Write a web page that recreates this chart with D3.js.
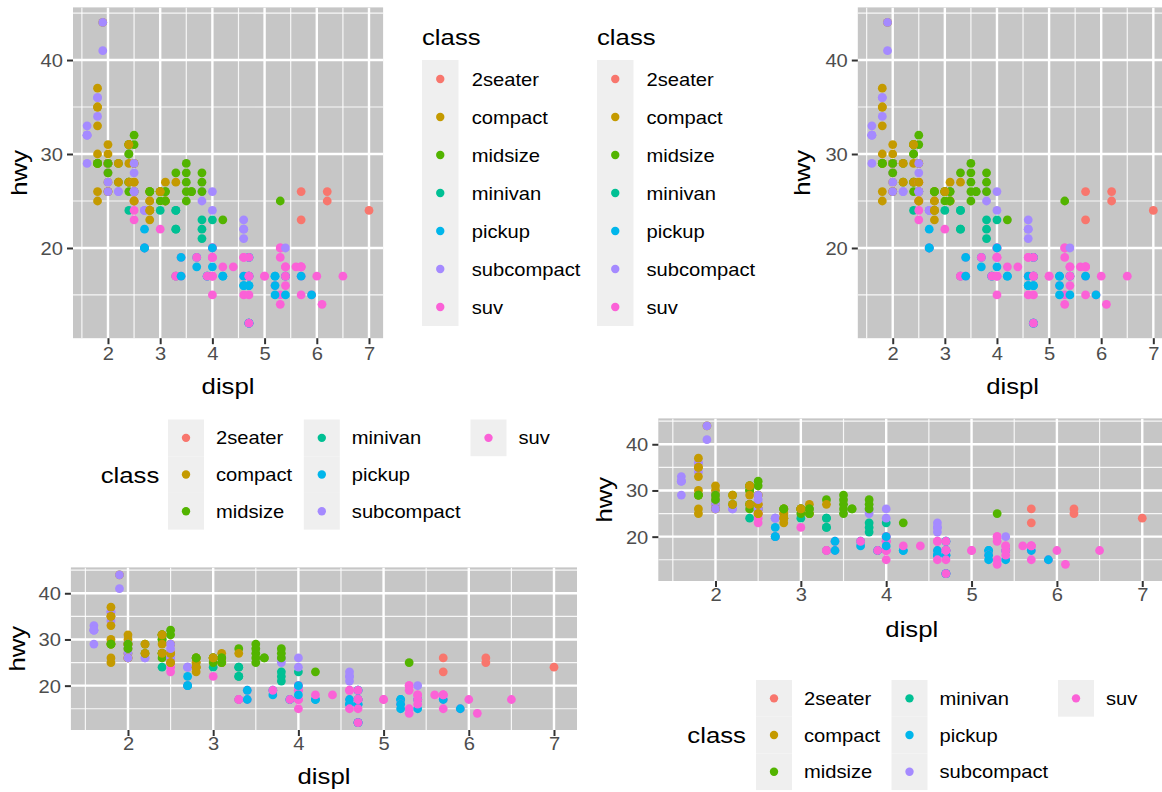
<!DOCTYPE html>
<html>
<head>
<meta charset="utf-8">
<script src="https://cdn.jsdelivr.net/npm/d3@7"></script>
<style>
html,body{margin:0;padding:0;background:#fff;}
svg{display:block;}
text{font-family:"Liberation Sans",Arial,Helvetica,sans-serif;}
</style>
</head>
<body>
<svg id="c" width="1162" height="792"></svg>
<script>
// ---- data (ggplot2::mpg, row order) ----
const classes = ["2seater","compact","midsize","minivan","pickup","subcompact","suv"];
const palette = ["#F8766D","#C49A00","#53B400","#00C094","#00B6EB","#A58AFF","#FB61D7"];
const displ = [1.8,1.8,2.0,2.0,2.8,2.8,3.1,1.8,1.8,2.0,2.0,2.8,2.8,3.1,3.1,2.8,3.1,4.2,5.3,5.3,
5.3,5.7,6.0,5.7,5.7,6.2,6.2,7.0,5.3,5.3,5.7,6.5,2.4,2.4,3.1,3.5,3.6,2.4,3.0,3.3,
3.3,3.3,3.3,3.3,3.8,3.8,3.8,4.0,3.7,3.7,3.9,3.9,4.7,4.7,4.7,5.2,5.2,3.9,4.7,4.7,
4.7,5.2,5.7,5.9,4.7,4.7,4.7,4.7,4.7,4.7,5.2,5.2,5.7,5.9,4.6,5.4,5.4,4.0,4.0,4.0,
4.0,4.6,5.0,4.2,4.2,4.6,4.6,4.6,5.4,5.4,3.8,3.8,4.0,4.0,4.6,4.6,4.6,4.6,5.4,1.6,
1.6,1.6,1.6,1.6,1.8,1.8,1.8,2.0,2.4,2.4,2.4,2.4,2.5,2.5,3.3,2.0,2.0,2.0,2.0,2.7,
2.7,2.7,3.0,3.7,4.0,4.7,4.7,4.7,5.7,6.1,4.0,4.2,4.4,4.6,5.4,5.4,5.4,4.0,4.0,4.6,
5.0,2.4,2.4,2.5,2.5,3.5,3.5,3.0,3.0,3.5,3.3,3.3,4.0,5.6,3.1,3.8,3.8,3.8,5.3,2.5,
2.5,2.5,2.5,2.5,2.5,2.2,2.2,2.5,2.5,2.5,2.5,2.5,2.5,2.7,2.7,3.4,3.4,4.0,4.7,2.2,
2.2,2.4,2.4,3.0,3.0,3.5,2.2,2.2,2.4,2.4,3.0,3.0,3.3,1.8,1.8,1.8,1.8,1.8,4.7,5.7,
2.7,2.7,2.7,3.4,3.4,4.0,4.0,2.0,2.0,2.0,2.0,2.8,1.9,2.0,2.0,2.0,2.0,2.5,2.5,2.8,
2.8,1.9,1.9,2.0,2.0,2.5,2.5,1.8,1.8,2.0,2.0,2.8,2.8,3.6];
const hwy = [29,29,31,30,26,26,27,26,25,28,27,25,25,25,25,24,25,23,20,15,
20,17,17,26,23,26,25,24,19,14,15,17,27,30,26,29,26,24,24,22,
22,24,24,17,22,21,23,23,19,18,17,17,19,19,12,17,17,17,17,12,
17,16,18,15,16,12,17,17,16,12,15,16,17,15,17,17,18,17,19,17,
19,19,17,17,17,16,16,17,15,17,26,25,26,24,21,22,23,22,20,33,
32,32,29,32,34,36,36,29,26,27,30,31,26,26,28,26,29,28,27,24,
24,24,22,19,20,17,12,19,18,14,15,18,18,15,17,16,18,17,19,19,
17,29,27,31,32,27,26,26,25,25,17,17,20,18,26,26,27,28,25,25,
24,27,25,26,23,26,26,26,26,25,27,25,27,20,20,19,17,20,17,29,
27,31,31,26,26,28,27,29,31,31,26,26,27,30,33,35,37,35,15,18,
20,20,22,17,19,18,20,29,26,29,29,24,44,29,26,29,29,29,29,23,
24,44,41,29,26,28,29,29,29,28,29,26,26,26];
const cls = ["compact","compact","compact","compact","compact","compact","compact","compact","compact","compact",
"compact","compact","compact","compact","compact","midsize","midsize","midsize","suv","suv",
"suv","suv","suv","2seater","2seater","2seater","2seater","2seater","suv","suv",
"suv","suv","midsize","midsize","midsize","midsize","midsize","minivan","minivan","minivan",
"minivan","minivan","minivan","minivan","minivan","minivan","minivan","minivan","pickup","pickup",
"pickup","pickup","pickup","pickup","pickup","pickup","pickup","suv","suv","suv",
"suv","suv","suv","suv","pickup","pickup","pickup","pickup","pickup","pickup",
"pickup","pickup","pickup","pickup","suv","suv","suv","suv","suv","suv",
"suv","suv","suv","pickup","pickup","pickup","pickup","pickup","pickup","pickup",
"subcompact","subcompact","subcompact","subcompact","subcompact","subcompact","subcompact","subcompact","subcompact","subcompact",
"subcompact","subcompact","subcompact","subcompact","subcompact","subcompact","subcompact","subcompact","midsize","midsize",
"midsize","midsize","midsize","midsize","midsize","subcompact","subcompact","subcompact","subcompact","subcompact",
"subcompact","subcompact","suv","suv","suv","suv","suv","suv","suv","suv",
"suv","suv","suv","suv","suv","suv","suv","suv","suv","suv",
"suv","compact","compact","midsize","midsize","midsize","midsize","midsize","midsize","midsize",
"suv","suv","suv","suv","midsize","midsize","midsize","midsize","midsize","suv",
"suv","suv","suv","suv","suv","subcompact","subcompact","subcompact","subcompact","compact",
"compact","compact","compact","suv","suv","suv","suv","suv","suv","midsize",
"midsize","midsize","midsize","midsize","midsize","midsize","compact","compact","compact","compact",
"compact","compact","compact","compact","compact","compact","compact","compact","suv","suv",
"pickup","pickup","pickup","pickup","pickup","pickup","pickup","compact","compact","compact",
"compact","compact","compact","compact","compact","compact","compact","compact","compact","compact",
"compact","subcompact","subcompact","subcompact","subcompact","subcompact","subcompact","midsize","midsize","midsize",
"midsize","midsize","midsize","midsize"];
const xTicks = [2,3,4,5,6,7];
const yTicks = [20,30,40];
const xMinor = [1.5,2.5,3.5,4.5,5.5,6.5,7.5];
const yMinor = [15,25,35,45];
const xTitle = "displ", yTitle = "hwy", legendTitle = "class";

// ---- style ----
const SX = 1.12;          // horizontal text stretch
const FS_TICK = 18, FS_TITLE = 23;
const PANEL_BG = "#c6c6c6", KEY_BG = "#efefef";
const color = d3.scaleOrdinal().domain(classes).range(palette);
const svg = d3.select("#c");

function txt(g, x, y, s, size, anchor, fill, rot) {
  return g.append("text")
    .attr("transform", `translate(${x},${y})` + (rot ? ` rotate(${rot})` : "") + ` scale(${SX},1)`)
    .attr("text-anchor", anchor || "start")
    .attr("font-size", size)
    .attr("fill", fill || "#000")
    .text(s);
}

function expand(ext, m) { const d = (ext[1] - ext[0]) * m; return [ext[0] - d, ext[1] + d]; }
const xDom = expand(d3.extent(displ), 0.05);
const yDom = expand(d3.extent(hwy), 0.05);

function panel(p) {
  const g = svg.append("g");
  const x = d3.scaleLinear().domain(xDom).range([p.x0, p.x1]);
  const y = d3.scaleLinear().domain(yDom).range([p.y1, p.y0]);
  const clipId = "clip" + p.id;
  svg.append("clipPath").attr("id", clipId).append("rect")
    .attr("x", p.x0).attr("y", p.y0).attr("width", p.x1 - p.x0).attr("height", p.y1 - p.y0);
  g.append("rect").attr("x", p.x0).attr("y", p.y0).attr("width", p.x1 - p.x0).attr("height", p.y1 - p.y0)
    .attr("fill", PANEL_BG);
  const grid = g.append("g").attr("clip-path", `url(#${clipId})`);
  grid.selectAll(".xm").data(xMinor).join("line").attr("x1", d => x(d)).attr("x2", d => x(d))
    .attr("y1", p.y0).attr("y2", p.y1).attr("stroke", "#fff").attr("stroke-width", 1.2).attr("opacity", 0.85);
  grid.selectAll(".ym").data(yMinor).join("line").attr("y1", d => y(d)).attr("y2", d => y(d))
    .attr("x1", p.x0).attr("x2", p.x1).attr("stroke", "#fff").attr("stroke-width", 1.2).attr("opacity", 0.85);
  grid.selectAll(".xM").data(xTicks).join("line").attr("x1", d => x(d)).attr("x2", d => x(d))
    .attr("y1", p.y0).attr("y2", p.y1).attr("stroke", "#fff").attr("stroke-width", 2.4);
  grid.selectAll(".yM").data(yTicks).join("line").attr("y1", d => y(d)).attr("y2", d => y(d))
    .attr("x1", p.x0).attr("x2", p.x1).attr("stroke", "#fff").attr("stroke-width", 2.4);
  grid.selectAll("circle").data(d3.range(displ.length)).join("circle")
    .attr("cx", i => x(displ[i])).attr("cy", i => y(hwy[i])).attr("r", 4.4)
    .attr("fill", i => color(cls[i]));

  // axes
  const ax = g.append("g").attr("transform", `translate(0,${p.y1})`)
    .call(d3.axisBottom(x).tickValues(xTicks).tickSize(6).tickPadding(4).tickFormat(d3.format("d")));
  ax.select(".domain").remove();
  ax.selectAll(".tick line").attr("stroke", "#333").attr("stroke-width", 2);
  ax.selectAll(".tick text").attr("font-size", FS_TICK).attr("fill", "#4d4d4d")
    .attr("font-family", "Liberation Sans, Arial, sans-serif")
    .attr("dy", null).attr("y", p.tickY)
    .attr("transform", `scale(${SX},1)`);
  const ay = g.append("g").attr("transform", `translate(${p.x0},0)`)
    .call(d3.axisLeft(y).tickValues(yTicks).tickSize(6).tickPadding(4).tickFormat(d3.format("d")));
  ay.select(".domain").remove();
  ay.selectAll(".tick line").attr("stroke", "#333").attr("stroke-width", 2);
  ay.selectAll(".tick text").attr("font-size", FS_TICK).attr("fill", "#4d4d4d")
    .attr("font-family", "Liberation Sans, Arial, sans-serif")
    .attr("x", -10 / SX).attr("dy", "0.36em")
    .attr("transform", `scale(${SX},1)`);

  txt(g, (p.x0 + p.x1) / 2, p.y1 + p.titleY, xTitle, FS_TITLE, "middle");
  txt(g, p.x0 - p.titleX, (p.y0 + p.y1) / 2, yTitle, FS_TITLE, "middle", "#000", -90);
}

function legendVertical(L) {
  const g = svg.append("g");
  txt(g, L.x, L.titleY, legendTitle, FS_TITLE, "start");
  classes.forEach((c, i) => {
    const top = L.top + i * L.rowH;
    g.append("rect").attr("x", L.x).attr("y", top).attr("width", L.keyW).attr("height", L.rowH).attr("fill", KEY_BG);
    g.append("circle").attr("cx", L.x + L.keyW / 2).attr("cy", top + L.rowH / 2).attr("r", 4.2).attr("fill", color(c));
    txt(g, L.labelX, top + L.rowH / 2 + 6.5, c, FS_TICK, "start", "#000");
  });
}

function legendGrid(L) {
  const g = svg.append("g");
  txt(g, L.titleX, L.top + 1.5 * L.rowH + 8, legendTitle, FS_TITLE, "start");
  classes.forEach((c, i) => {
    const col = Math.floor(i / 3), row = i % 3;
    const kx = L.colX[col], top = L.top + row * L.rowH;
    g.append("rect").attr("x", kx).attr("y", top).attr("width", L.keyW).attr("height", L.rowH).attr("fill", KEY_BG);
    g.append("circle").attr("cx", kx + L.keyW / 2).attr("cy", top + L.rowH / 2).attr("r", 4.2).attr("fill", color(c));
    txt(g, kx + L.keyW + 12, top + L.rowH / 2 + 6.5, c, FS_TICK, "start", "#000");
  });
}

// ---- panels ----
panel({id: 1, x0: 73, x1: 383.1, y0: 7.4, y1: 338.2, tickY: 22, titleY: 56, titleX: 46});
panel({id: 2, x0: 857.8, x1: 1167.4, y0: 7.4, y1: 338.2, tickY: 22, titleY: 56, titleX: 48});
panel({id: 3, x0: 70.9, x1: 577, y0: 567.4, y1: 730, tickY: 20, titleY: 54, titleX: 46});
panel({id: 4, x0: 658.3, x1: 1165.3, y0: 418.4, y1: 581, tickY: 20, titleY: 56, titleX: 46});

legendVertical({x: 422, titleY: 45, top: 60, rowH: 38, keyW: 36.5, labelX: 471.7});
legendVertical({x: 597, titleY: 45, top: 60, rowH: 38, keyW: 36.5, labelX: 646.5});
legendGrid({titleX: 100.7, top: 419.5, rowH: 36.7, keyW: 36, colX: [168, 303.8, 470.5]});
legendGrid({titleX: 687.3, top: 680, rowH: 36.7, keyW: 36, colX: [756, 891.5, 1058]});
</script>
</body>
</html>
